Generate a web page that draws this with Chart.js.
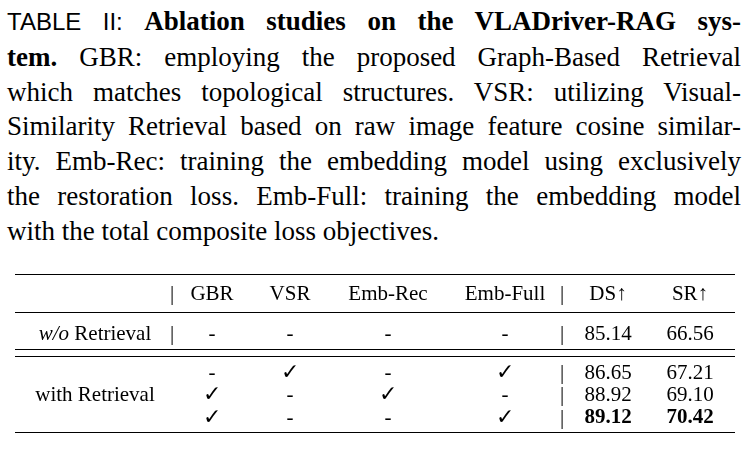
<!DOCTYPE html>
<html>
<head>
<meta charset="utf-8">
<script src="https://cdn.jsdelivr.net/npm/chart.js@4/dist/chart.umd.min.js"></script>
<style>
  body { margin: 0; background: #fff; width: 748px; height: 449px; overflow: hidden; }
  #cap { position: absolute; left: 7px; top: 4px; width: 734px; font-family: "Liberation Serif", serif; font-size: 27px; line-height: 34.8px; color: #000; }
  #cap div { text-align: justify; text-align-last: justify; white-space: nowrap; }
  #cap div.last { text-align-last: left; }
  .sans { font-family: "Liberation Sans", sans-serif; font-size: 24px; }
  #wrap { position: absolute; left: 0; top: 260px; width: 748px; height: 189px; }
</style>
</head>
<body>
<div id="cap">
  <div><span class="sans">TABLE II:</span> <b>Ablation studies on the VLADriver-RAG sys-</b></div>
  <div><b>tem.</b> GBR: employing the proposed Graph-Based Retrieval</div>
  <div>which matches topological structures. VSR: utilizing Visual-</div>
  <div>Similarity Retrieval based on raw image feature cosine similar-</div>
  <div>ity. Emb-Rec: training the embedding model using exclusively</div>
  <div>the restoration loss. Emb-Full: training the embedding model</div>
  <div class="last">with the total composite loss objectives.</div>
</div>
<div id="wrap"><canvas id="tbl"></canvas></div>
<script>
const columns = ["", "GBR", "VSR", "Emb-Rec", "Emb-Full", "DS\u2191", "SR\u2191"];
const rowLabels = ["w/o Retrieval", "with Retrieval"];
const gbr = ["-", "-", "\u2713", "\u2713"];
const vsr = ["-", "\u2713", "-", "-"];
const embRec = ["-", "-", "\u2713", "-"];
const embFull = ["-", "\u2713", "-", "\u2713"];
const ds = ["85.14", "86.65", "88.92", "89.12"];
const sr = ["66.56", "67.21", "69.10", "70.42"];

// layout: column centres and row slots
const colX = [95, 212, 290, 388, 505, 608, 690];
const rowY = [2, 3.95, 5.05, 6.2];

const points = [];
for (let c = 0; c < columns.length; c++) points.push({ x: colX[c], y: 0, t: columns[c], head: true });
const cols = [gbr, vsr, embRec, embFull, ds, sr];
for (let r = 0; r < 4; r++) {
  cols.forEach((arr, i) => points.push({ x: colX[i + 1], y: rowY[r], t: arr[r], bold: r === 3 && i >= 4 }));
}

const FONT = "21px 'Liberation Serif', 'DejaVu Serif', serif";

const tablePlugin = {
  id: "tablePlugin",
  afterDraw(chart) {
    const ctx = chart.ctx, xs = chart.scales.x, ys = chart.scales.y;
    ctx.save();
    ctx.fillStyle = "#000";
    ctx.strokeStyle = "#000";
    ctx.textBaseline = "middle";
    ctx.textAlign = "center";
    points.forEach(p => {
      ctx.font = (p.bold ? "bold " : "") + FONT;
      if (p.t === "\u2713") ctx.font = "22px 'DejaVu Serif', serif";
      ctx.fillText(p.t, xs.getPixelForValue(p.x), ys.getPixelForValue(p.y));
    });
    // row labels
    const lx = xs.getPixelForValue(colX[0]);
    const wy = ys.getPixelForValue(rowY[0]);
    ctx.font = "italic " + FONT;
    const w1 = ctx.measureText("w/o ").width;
    ctx.font = FONT;
    const w2 = ctx.measureText("Retrieval").width;
    ctx.textAlign = "left";
    ctx.font = "italic " + FONT;
    ctx.fillText("w/o ", lx - (w1 + w2) / 2, wy);
    ctx.font = FONT;
    ctx.fillText("Retrieval", lx - (w1 + w2) / 2 + w1, wy);
    ctx.textAlign = "center";
    ctx.fillText(rowLabels[1], lx, ys.getPixelForValue(rowY[2]));
    // rules
    const L = xs.getPixelForValue(15), R = xs.getPixelForValue(735);
    ctx.lineWidth = 1.2;
    [-1, 0.9, 2.75, 3.1, 6.9].forEach(v => {
      const y = Math.round(ys.getPixelForValue(v)) + 0.5;
      ctx.beginPath(); ctx.moveTo(L, y); ctx.lineTo(R, y); ctx.stroke();
    });
    // vertical bars
    ctx.font = FONT;
    [0, rowY[0]].forEach(r => {
      ctx.fillText("|", xs.getPixelForValue(172), ys.getPixelForValue(r));
      ctx.fillText("|", xs.getPixelForValue(562), ys.getPixelForValue(r));
    });
    rowY.slice(1).forEach(r => {
      ctx.fillText("|", xs.getPixelForValue(562), ys.getPixelForValue(r));
    });
    ctx.restore();
  }
};

new Chart(document.getElementById("tbl"), {
  type: "scatter",
  data: { datasets: [{ data: points, pointRadius: 0 }] },
  options: {
    responsive: true,
    maintainAspectRatio: false,
    animation: false,
    layout: { padding: 0 },
    plugins: { legend: { display: false }, tooltip: { enabled: false } },
    scales: {
      x: { type: "linear", min: 0, max: 748, display: false },
      y: { type: "linear", min: -1.7, max: 7.75, reverse: true, display: false }
    }
  },
  plugins: [tablePlugin]
});
</script>
</body>
</html>
